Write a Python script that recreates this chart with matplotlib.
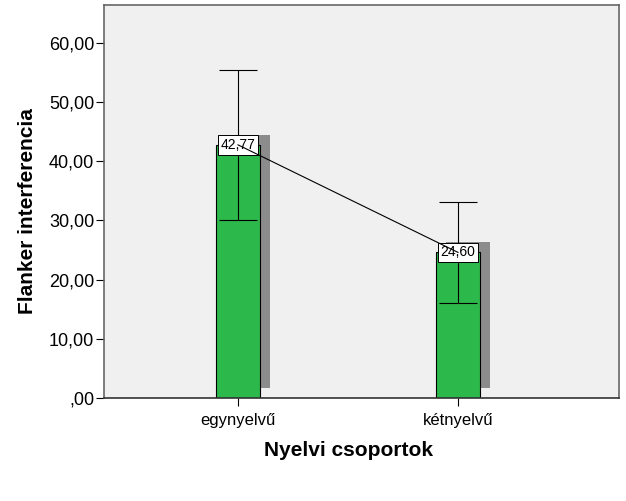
import matplotlib
matplotlib.use("Agg")
import matplotlib.pyplot as plt
import matplotlib.ticker as ticker

plt.rcParams['font.family'] = ['Liberation Sans', 'DejaVu Sans']

# data
groups = ['egynyelvű', 'kétnyelvű']
means = [42.77, 24.60]
err_low = [30.15, 16.0]
err_high = [55.35, 33.2]
y_ticks = [0, 10, 20, 30, 40, 50, 60]

fig = plt.figure(figsize=(6.26, 5.01), dpi=100)
ax = fig.add_axes([104 / 626, 103 / 501, 515 / 626, 393 / 501])
ax.set_facecolor('#f0f0f0')

x = list(range(len(groups)))
bar_w = 0.2
ylim_top = 66.4
# shadow offset: 10 px right, 10 px up
dx = 10 / 220
dy = 10 * ylim_top / 393

for xi, m in zip(x, means):
    ax.bar(xi + dx, m, width=bar_w, bottom=dy, color='#8c8c8c', zorder=1)
ax.bar(x, means, width=bar_w, color='#2db84b', edgecolor='black', linewidth=0.8, zorder=2)

lower = [m - lo for m, lo in zip(means, err_low)]
upper = [hi - m for m, hi in zip(means, err_high)]
ax.errorbar(x, means, yerr=[lower, upper], fmt='none', ecolor='black',
            elinewidth=0.8, capsize=13.7, capthick=0.8, zorder=3)

for xi, m in zip(x, means):
    ax.text(xi, m, f'{m:.2f}'.replace('.', ','), ha='center', va='center', fontsize=10,
            zorder=4, bbox=dict(boxstyle='square,pad=0.2', facecolor='white',
                                edgecolor='black', linewidth=0.7))

ax.plot(x, means, color='black', linewidth=0.8, zorder=5)

ax.set_xlim(-134 / 220, 1 + 161 / 220)
ax.set_ylim(0, ylim_top)
ax.set_xticks(x)
ax.set_xticklabels(groups, fontsize=12)
ax.set_yticks(y_ticks)
ax.yaxis.set_major_formatter(ticker.FuncFormatter(
    lambda v, p: ',00' if v == 0 else f'{v:.2f}'.replace('.', ',')))
ax.tick_params(axis='y', labelsize=13, direction='out', length=6, width=0.8, pad=1)
ax.tick_params(axis='x', direction='out', length=6, width=0.8, pad=5)

for s in ['top', 'right', 'left']:
    ax.spines[s].set_color('#666666')
    ax.spines[s].set_linewidth(1.2)
ax.spines['bottom'].set_color('#333333')
ax.spines['bottom'].set_linewidth(1.2)

fig.text(28 / 626, 1 - 211 / 501, 'Flanker interferencia', rotation=90,
         ha='center', va='center', fontsize=15, fontweight='bold')
fig.text(348 / 626, 1 - 451 / 501, 'Nyelvi csoportok', ha='center', va='center',
         fontsize=15, fontweight='bold')

fig.savefig('out.png', dpi=100, facecolor='white')
